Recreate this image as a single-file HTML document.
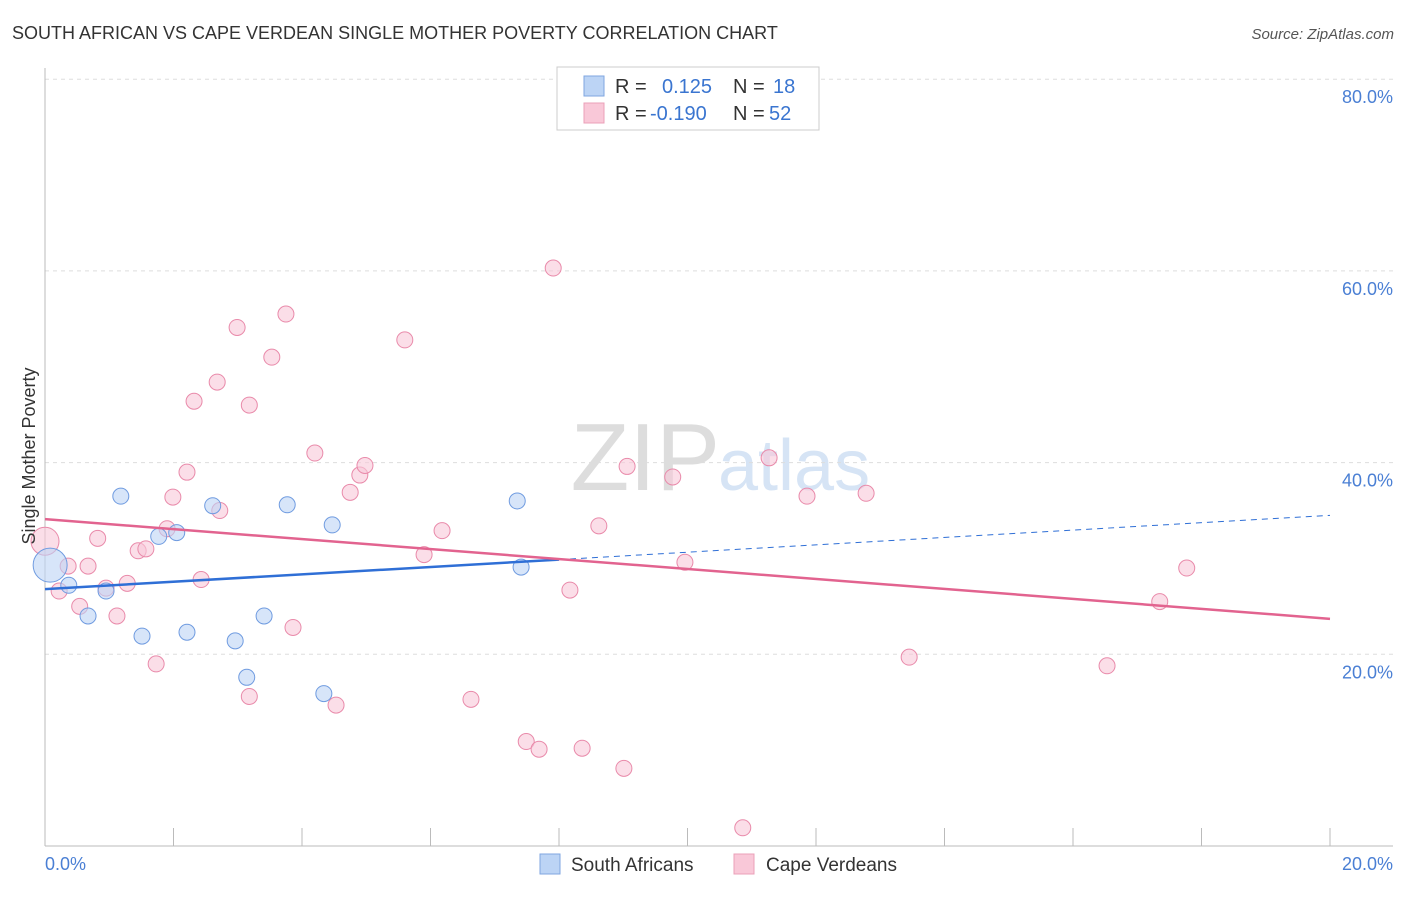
<!DOCTYPE html>
<html><head><meta charset="utf-8"><style>
body{margin:0;background:#fff;font-family:"Liberation Sans",sans-serif}
svg text{font-family:"Liberation Sans",sans-serif}
</style></head><body>
<svg id="c" width="1406" height="892">
<text x="12" y="39" font-size="18" fill="#333">SOUTH AFRICAN VS CAPE VERDEAN SINGLE MOTHER POVERTY CORRELATION CHART</text>
<text x="1394" y="39" font-size="15" fill="#555" text-anchor="end" font-style="italic">Source: ZipAtlas.com</text>
<text x="720" y="490" font-size="96" fill="#ddd" text-anchor="end" font-family="Liberation Serif">ZIP</text>
<text x="718" y="490" font-size="72" fill="#d6e4f5">atlas</text>
<g id="grid"></g><g id="marks"></g>
<text x="35" y="456" font-size="18" fill="#333" text-anchor="middle" transform="rotate(-90 35 456)">Single Mother Poverty</text>
<text x="45" y="870" font-size="18" fill="#4a7fd4">0.0%</text>
<text x="1393" y="870" font-size="18" fill="#4a7fd4" text-anchor="end">20.0%</text>
<g>
<rect x="557" y="67" width="262" height="63" fill="#fff" stroke="#ccc"/>
<rect x="584" y="76" width="20" height="20" fill="#bcd4f5" stroke="#7fa6e0"/>
<rect x="584" y="103" width="20" height="20" fill="#f9c8d8" stroke="#eba0b8"/>
<text x="615" y="93" font-size="20" fill="#333">R = </text><text x="662" y="93" font-size="20" fill="#3a75d0">0.125</text>
<text x="733" y="93" font-size="20" fill="#333">N = </text><text x="773" y="93" font-size="20" fill="#3a75d0">18</text>
<text x="615" y="120" font-size="20" fill="#333">R = </text><text x="650" y="120" font-size="20" fill="#3a75d0">-0.190</text>
<text x="733" y="120" font-size="20" fill="#333">N = </text><text x="769" y="120" font-size="20" fill="#3a75d0">52</text>
</g>
<g>
<rect x="540" y="854" width="20" height="20" fill="#bcd4f5" stroke="#7fa6e0"/>
<text x="571" y="871" font-size="19" fill="#333">South Africans</text>
<rect x="734" y="854" width="20" height="20" fill="#f9c8d8" stroke="#eba0b8"/>
<text x="766" y="871" font-size="19" fill="#333">Cape Verdeans</text>
</g>
</svg>
<script>
const yTicks=[20,40,60,80];
const blueX=[0.08,0.37,0.67,0.95,1.18,1.51,1.77,2.05,2.21,2.61,2.96,3.14,3.41,3.77,4.34,4.47,7.35,7.41];
const blueY=[29.3,27.2,24.0,26.6,36.5,21.9,32.3,32.7,22.3,35.5,21.4,17.6,24.0,35.6,15.9,33.5,36.0,29.1];
const pinkX=[0,0.22,0.36,0.54,0.67,0.82,0.95,1.12,1.28,1.45,1.57,1.73,1.90,1.99,2.21,2.32,2.43,2.68,2.72,2.99,3.18,3.18,3.53,3.75,3.86,4.20,4.53,4.75,4.90,4.98,5.60,5.90,6.18,6.63,7.49,7.69,7.91,8.17,8.36,8.62,9.01,9.06,9.77,9.96,10.86,11.27,11.86,12.78,13.45,16.53,17.35,17.77];
const pinkY=[31.8,26.6,29.2,25.0,29.2,32.1,26.9,24.0,27.4,30.8,31.0,19.0,33.1,36.4,39.0,46.4,27.8,48.4,35.0,54.1,46.0,15.6,51.0,55.5,22.8,41.0,14.7,36.9,38.7,39.7,52.8,30.4,32.9,15.3,10.9,10.1,60.3,26.7,10.2,33.4,8.1,39.6,38.5,29.6,1.9,40.5,36.5,36.8,19.7,18.8,25.5,29.0];
const blueTrend=[26.8,34.5];
const pinkTrend=[34.1,23.7];
const NS='http://www.w3.org/2000/svg';
const X=v=>45+v/20*1285, Y=v=>846-v/20*191.7;
function mk(p,t,a){const e=document.createElementNS(NS,t);for(const k in a)e.setAttribute(k,a[k]);p.appendChild(e);return e;}
const g=document.getElementById('grid'),m=document.getElementById('marks');
yTicks.forEach(t=>{
 const l=mk(g,'line',{x1:45,x2:1393,y1:Y(t),y2:Y(t),stroke:'#ddd','stroke-dasharray':'4,4'});
 
 
 const tx=mk(g,'text',{x:1393,y:Y(t)+24,'font-size':18,fill:'#4a7fd4','text-anchor':'end'});tx.textContent=t.toFixed(1)+'%';
 
 
});
mk(g,'line',{x1:45,x2:45,y1:68,y2:846,stroke:'#bbb'});
mk(g,'line',{x1:45,x2:1393,y1:846,y2:846,stroke:'#bbb'});
for(let i=0;i<=10;i++){const l=mk(g,'line',{x1:X(i*2),x2:X(i*2),y1:828,y2:846,stroke:'#bbb'});
 
 }
function pts(xs,ys,f,s,name){xs.forEach((x,i)=>{const r=(i==0)?(name=='blue-point'?17:14):8;
 const c=mk(m,'circle',{cx:X(x),cy:Y(ys[i]),r:r,fill:f,stroke:s,'stroke-width':1,'fill-opacity':0.6});
 
 });}
pts(pinkX,pinkY,'#f9c8d8','#e98aaa','pink-point');
pts(blueX,blueY,'#bcd4f5','#6f9be0','blue-point');
const bMid=blueTrend[0]+(blueTrend[1]-blueTrend[0])*0.4;
let l=mk(m,'line',{x1:X(0),y1:Y(blueTrend[0]),x2:X(8),y2:Y(bMid),stroke:'#2f6fd6','stroke-width':2.5});


l=mk(m,'line',{x1:X(8),y1:Y(bMid),x2:X(20),y2:Y(blueTrend[1]),stroke:'#2f6fd6','stroke-width':1,'stroke-dasharray':'6,5'});


l=mk(m,'line',{x1:X(0),y1:Y(pinkTrend[0]),x2:X(20),y2:Y(pinkTrend[1]),stroke:'#e2638f','stroke-width':2.5});


</script>
</body></html>
